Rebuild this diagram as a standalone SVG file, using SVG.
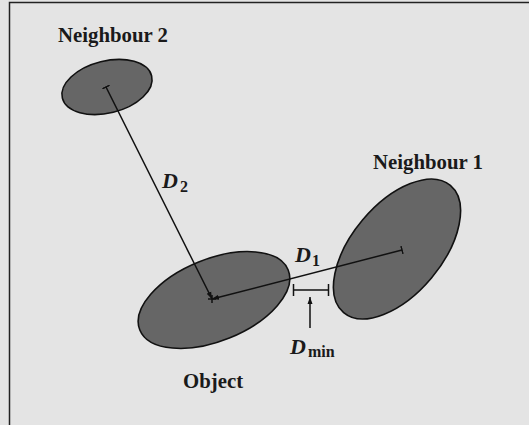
<svg xmlns="http://www.w3.org/2000/svg" width="529" height="425" viewBox="0 0 529 425">
<defs>
<style>
.blob{fill:#666666;stroke:#111;stroke-width:1.6}
.ln{stroke:#111;stroke-width:1.5;fill:none}
.lbl{font-family:"Liberation Serif",serif;font-weight:bold;font-size:20.8px;fill:#1a1a1a}
.d{font-family:"Liberation Serif",serif;font-weight:bold;font-style:italic;font-size:22px;fill:#1a1a1a}
.sub{font-family:"Liberation Serif",serif;font-weight:bold;font-size:16px;fill:#1a1a1a}
</style>
<marker id="ah" markerWidth="8" markerHeight="8" refX="7" refY="4" orient="auto" markerUnits="userSpaceOnUse">
<path d="M0,1.5 L7,4 L0,6.5 Z" fill="#111"/>
</marker>
<marker id="tick" markerWidth="2" markerHeight="8" refX="1" refY="4" orient="auto" markerUnits="userSpaceOnUse">
<path d="M1,0 L1,8" stroke="#111" stroke-width="1.5"/>
</marker>
</defs>
<rect x="0" y="0" width="529" height="425" fill="#e4e4e4"/>
<path d="M9.5,425 L9.5,2.5 L529,2.5" fill="none" stroke="#222" stroke-width="1.5"/>
<g id="neighbour2">
<ellipse class="blob" cx="107" cy="87" rx="46" ry="26" transform="rotate(-14 107 87)"/>
<text class="lbl" x="58" y="42">Neighbour 2</text>
</g>
<g id="object">
<ellipse class="blob" cx="214" cy="300" rx="80" ry="41" transform="rotate(-22 214 300)"/>
<text class="lbl" x="183" y="388">Object</text>
</g>
<g id="neighbour1">
<ellipse class="blob" cx="397" cy="249" rx="83" ry="45" transform="rotate(-50 397 249)"/>
<text class="lbl" x="373" y="169">Neighbour 1</text>
</g>
<g id="connectors">
<line class="ln" x1="106" y1="87" x2="212" y2="299" marker-start="url(#tick)" marker-end="url(#ah)"/>
<line class="ln" x1="402" y1="250" x2="212" y2="299" marker-start="url(#tick)" marker-end="url(#ah)"/>
<path class="ln" d="M212,295 L212,303 M208,299 L216,299" stroke-width="1.2"/>
<path class="ln" d="M293,290 L329,290 M293.5,284 L293.5,296 M328.5,284 L328.5,296"/>
<line class="ln" x1="310" y1="328" x2="310" y2="297" marker-end="url(#ah)"/>
</g>
<g id="labels">
<text class="d" x="162" y="188">D</text><text class="sub" x="180" y="192">2</text>
<text class="d" x="295" y="262">D</text><text class="sub" x="312" y="266">1</text>
<text class="d" x="290" y="354">D</text><text class="sub" x="308" y="357">min</text>
</g>
</svg>
